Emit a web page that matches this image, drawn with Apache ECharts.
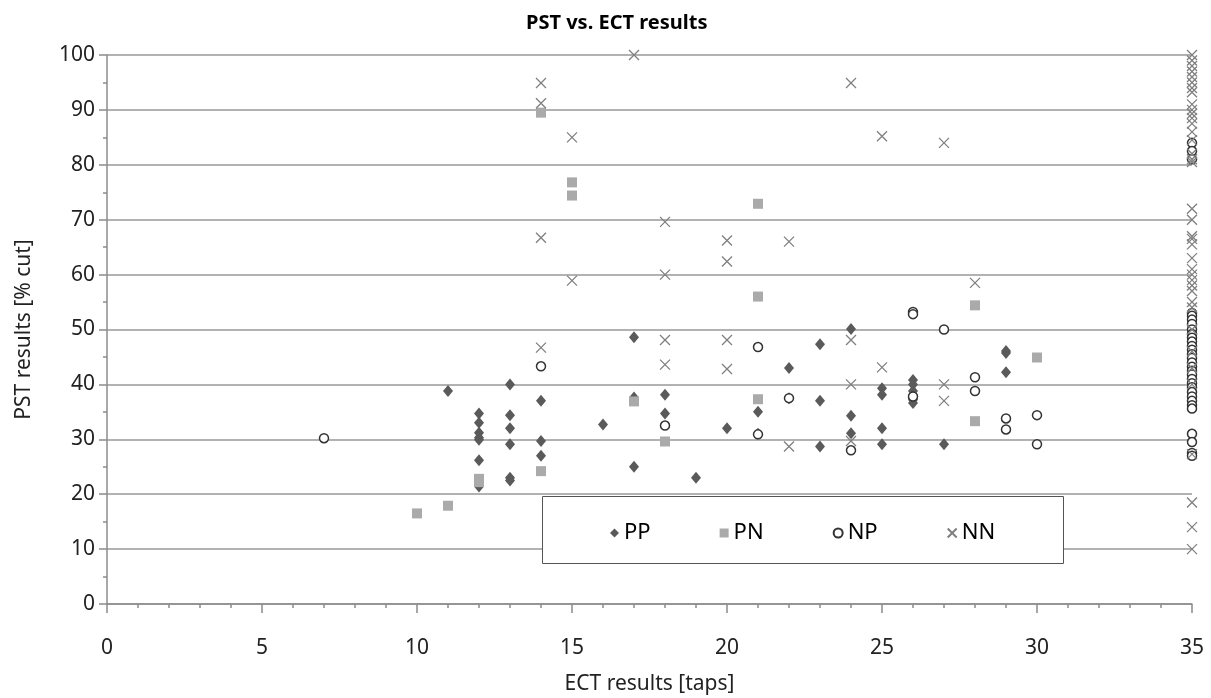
<!DOCTYPE html>
<html>
<head>
<meta charset="utf-8">
<title>PST vs. ECT results</title>
<script src="https://cdn.jsdelivr.net/npm/echarts@6/dist/echarts.min.js"></script>
<style>
  html, body { margin: 0; padding: 0; background: #fff; }
  #chart { width: 1211px; height: 698px; }
</style>
</head>
<body>
<div id="chart"></div>
<script>
// PP : [ECT taps, PST % cut]
const ppData = [
  [11, 38.8],
  [12, 34.7], [12, 33.0], [12, 31.2], [12, 30.3], [12, 29.9], [12, 26.2], [12, 21.4],
  [13, 40.0], [13, 34.4], [13, 32.0], [13, 29.1], [13, 23.0], [13, 22.5],
  [14, 37.0], [14, 29.7], [14, 27.0],
  [16, 32.7],
  [17, 48.6], [17, 37.6], [17, 25.0],
  [18, 38.1], [18, 34.7],
  [19, 23.0],
  [20, 32.0],
  [21, 35.0], [21, 31.0],
  [22, 43.0], [22, 37.5],
  [23, 47.3], [23, 37.0], [23, 28.7],
  [24, 50.1], [24, 34.3], [24, 31.1],
  [25, 39.3], [25, 38.1], [25, 32.0], [25, 29.1],
  [26, 40.8], [26, 40.0], [26, 38.8], [26, 38.0], [26, 37.2], [26, 36.6],
  [27, 29.1],
  [29, 46.1], [29, 45.7], [29, 42.2]
];

// PN
const pnData = [
  [10, 16.5], [11, 17.9], [12, 22.8], [12, 22.2], [14, 89.5], [14, 24.2],
  [15, 76.8], [15, 74.4], [17, 36.9], [18, 29.6], [21, 72.9], [21, 56.0],
  [21, 37.3], [28, 54.4], [28, 33.3], [30, 44.9]
];

// NP
const npData = [
  [7, 30.2], [14, 43.3], [18, 32.5], [21, 46.8], [21, 30.9], [22, 37.5],
  [24, 28.0], [26, 53.2], [26, 52.8], [26, 37.8], [27, 50.0], [28, 41.3],
  [28, 38.8], [29, 33.8], [29, 31.8], [30, 34.4], [30, 29.1]
];
// NP values at the 35 taps cap
const np35 = [84, 82.5, 81, 53, 52.5, 51.8, 51, 50, 49.2, 48.5, 47.8, 47, 46.3,
  45.5, 44.8, 44, 43.2, 42.5, 41.8, 41, 40.2, 39.5, 38.6, 37.8, 37, 36.2, 35.6,
  31, 29.5, 27.5, 27];

// NN
const nnData = [
  [14, 94.9], [14, 91.2], [14, 66.7], [14, 46.7], [15, 85.0], [15, 58.9],
  [17, 100], [18, 69.6], [18, 60.0], [18, 48.1], [18, 43.6], [20, 66.2],
  [20, 62.4], [20, 48.1], [20, 42.8], [22, 66.0], [22, 28.7], [24, 94.9],
  [24, 48.1], [24, 40.0], [24, 29.7], [25, 85.2], [25, 43.1], [27, 84.0],
  [27, 40.0], [27, 37.0], [28, 58.5]
];
// NN values at the 35 taps cap
const nn35 = [100, 99, 98, 97, 96, 95, 94, 93.2, 91, 90, 89.3, 88.5, 87.5, 86,
  84.5, 82, 81, 80.5, 72, 70, 67, 66.5, 65.5, 63, 61, 60, 59, 58, 57, 55, 54,
  50, 46, 43, 40, 27.3, 18.5, 14, 10];

const seriesNames = ['PP', 'PN', 'NP', 'NN'];

const chart = echarts.init(document.getElementById('chart'));

const fontFam = '"Noto Sans", sans-serif';
const crossPath = 'path://M0,0L10,10M10,0L0,10';
const axisGrey = '#8c8c8c';

chart.setOption({
  animation: false,
  backgroundColor: '#fff',
  textStyle: { fontFamily: fontFam },
  title: {
    text: 'PST vs. ECT results',
    left: 521,
    top: 8,
    textStyle: { fontSize: 20, fontWeight: 'bold', color: '#000', fontFamily: fontFam }
  },
  grid: { left: 107, right: 19, top: 55, bottom: 94, outerBoundsMode: 'none' },
  // legend box (Excel style)
  graphic: [{
    type: 'rect',
    left: 542, top: 496,
    shape: { width: 521, height: 67 },
    style: { fill: '#fff', stroke: '#555', lineWidth: 1 },
    z: 5
  }],
  legend: {
    data: seriesNames,
    left: 605,
    top: 517,
    itemWidth: 9,
    itemHeight: 9,
    itemGap: 69,
    z: 10,
    textStyle: { fontSize: 22, color: '#000', fontFamily: fontFam }
  },
  xAxis: {
    type: 'value',
    min: 0, max: 35, interval: 5,
    name: 'ECT results [taps]',
    nameLocation: 'middle',
    nameGap: 70,
    nameTextStyle: { fontSize: 21, color: '#222' },
    axisLine: { show: true, lineStyle: { color: axisGrey, width: 1.5 } },
    axisTick: { show: true, length: 9, lineStyle: { color: axisGrey, width: 1.5 } },
    minorTick: { show: true, splitNumber: 5, length: 4, lineStyle: { color: axisGrey, width: 1.5 } },
    axisLabel: { fontSize: 21, color: '#222', margin: 34 },
    splitLine: { show: false }
  },
  yAxis: {
    type: 'value',
    min: 0, max: 100, interval: 10,
    name: 'PST results [% cut]',
    nameLocation: 'middle',
    nameGap: 72,
    nameRotate: 90,
    nameTextStyle: { fontSize: 21, color: '#222' },
    axisLine: { show: true, lineStyle: { color: axisGrey, width: 1.5 } },
    axisTick: { show: true, length: 8, lineStyle: { color: axisGrey, width: 1.5 } },
    minorTick: { show: true, splitNumber: 2, length: 4, lineStyle: { color: axisGrey, width: 1.5 } },
    axisLabel: { fontSize: 21, color: '#222', margin: 12 },
    splitLine: { show: true, lineStyle: { color: '#999', width: 1.5 } }
  },
  series: [
    {
      name: 'PP',
      type: 'scatter',
      symbol: 'diamond',
      symbolSize: [10, 12],
      itemStyle: { color: '#5a5a5a', opacity: 1 },
      data: ppData
    },
    {
      name: 'PN',
      type: 'scatter',
      symbol: 'rect',
      symbolSize: 10,
      itemStyle: { color: '#aaaaaa', opacity: 1 },
      data: pnData
    },
    {
      name: 'NP',
      type: 'scatter',
      symbol: 'circle',
      symbolSize: 9,
      itemStyle: { color: '#fff', borderColor: '#333', borderWidth: 1.5, opacity: 1 },
      data: npData.concat(np35.map(v => [35, v]))
    },
    {
      name: 'NN',
      type: 'scatter',
      symbol: crossPath,
      symbolSize: 10,
      itemStyle: { color: 'rgba(0,0,0,0)', borderColor: '#7f7f7f', borderWidth: 1.3, opacity: 1 },
      data: nnData.concat(nn35.map(v => [35, v]))
    }
  ]
});
</script>
</body>
</html>
